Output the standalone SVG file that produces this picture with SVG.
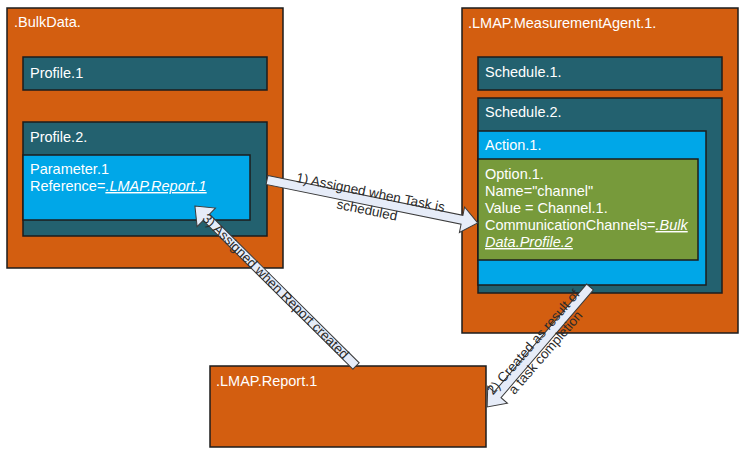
<svg xmlns="http://www.w3.org/2000/svg" width="749" height="457" viewBox="0 0 749 457">
<style>
.box{stroke:#1c1c1c;stroke-width:1.5}
.or{fill:#D35E10}
.tl{fill:#23616F}
.bl{fill:#00A7E8}
.gr{fill:#779A3B}
.t{font-family:"Liberation Sans",Arial,sans-serif;font-size:14.5px;fill:#ffffff}
.lk{font-style:italic;text-decoration:underline}
.arr{fill:#E6ECF8;stroke:#3a3a3a;stroke-width:1}
.at{font-family:"Liberation Sans",Arial,sans-serif;font-size:13.5px;fill:#2a2a2a;text-anchor:middle}
</style>
<rect width="749" height="457" fill="#ffffff"/>
<g id="bulkdata">
<rect class="box or" x="7" y="8" width="276" height="260"/>
<text class="t" x="14" y="27">.BulkData.</text>
</g>
<g id="profile1">
<rect class="box tl" x="23" y="57" width="244" height="33"/>
<text class="t" x="30" y="78">Profile.1</text>
</g>
<g id="profile2">
<rect class="box tl" x="23" y="122" width="244" height="114"/>
<text class="t" x="30" y="142">Profile.2.</text>
</g>
<g id="parameter1">
<rect class="box bl" x="23" y="155" width="227" height="65"/>
<text class="t" x="30" y="174">Parameter.1</text>
<text class="t" x="30" y="191">Reference=<tspan class="lk">.LMAP.Report.1</tspan></text>
</g>
<g id="measurementagent">
<rect class="box or" x="462" y="8" width="276" height="325"/>
<text class="t" x="468" y="28">.LMAP.MeasurementAgent.1.</text>
</g>
<g id="schedule1">
<rect class="box tl" x="478" y="57" width="244" height="33"/>
<text class="t" x="485" y="77">Schedule.1.</text>
</g>
<g id="schedule2">
<rect class="box tl" x="478" y="98" width="244" height="195"/>
<text class="t" x="485" y="117">Schedule.2.</text>
</g>
<g id="action1">
<rect class="box bl" x="478" y="131" width="228" height="154"/>
<text class="t" x="485" y="150">Action.1.</text>
</g>
<g id="option1">
<rect class="box gr" x="478" y="159" width="220" height="101"/>
<text class="t" x="485" y="179">Option.1.</text>
<text class="t" x="485" y="196">Name="channel"</text>
<text class="t" x="485" y="213">Value = Channel.1.</text>
<text class="t" x="485" y="230">CommunicationChannels=<tspan class="lk">.Bulk</tspan></text>
<text class="t lk" x="485" y="247">Data.Profile.2</text>
</g>
<g id="report1">
<rect class="box or" x="210" y="366" width="276" height="81"/>
<text class="t" x="216" y="386">.LMAP.Report.1</text>
</g>
<g id="connectors">
<g transform="translate(267,180) rotate(11.52)">
<polygon class="arr" points="0,-4.5 199,-4.5 199,-13 215,0 199,13 199,4.5 0,4.5"/>
<text class="at" x="104" y="-4">1) Assigned when Task is</text>
<text class="at" x="104" y="14">scheduled</text>
</g>
<g transform="translate(356,366) rotate(-135.2)">
<polygon class="arr" points="0,-4.5 211,-4.5 211,-13 227,0 211,13 211,4.5 0,4.5"/>
</g>
<text class="at" transform="translate(276,286) rotate(44.7)" x="0" y="5">3) Assigned when Report created</text>
<g transform="translate(590,287) rotate(130.6)">
<polygon class="arr" points="0,-4.5 142,-4.5 142,-13 158,0 142,13 142,4.5 0,4.5"/>
</g>
<g transform="translate(539,347) rotate(-49.1)">
<text class="at" x="0" y="-3">2) Created as result of</text>
<text class="at" x="0" y="13">a task completion</text>
</g>
</g>
</svg>
